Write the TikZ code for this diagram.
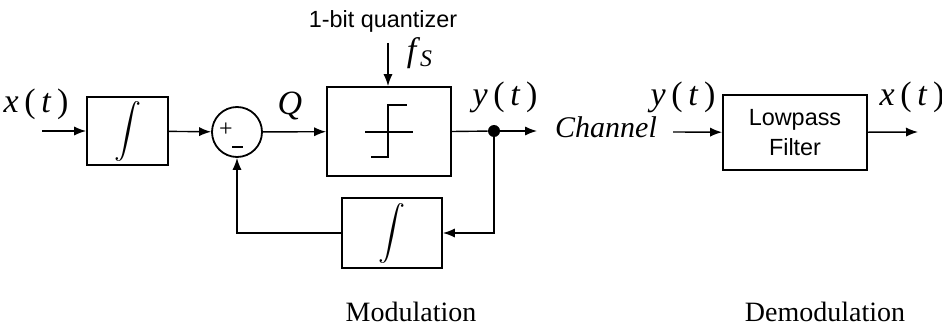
\documentclass[tikz,border=0pt]{standalone}
\usepackage{fontspec}
\setmainfont{Liberation Serif}
\newfontfamily\labelsf{Liberation Sans}
\usetikzlibrary{arrows.meta,calc}
\newcommand{\bigint}{\scalebox{1.35}{$\displaystyle\int$}}

\begin{document}
\begin{tikzpicture}[x=0.5pt,y=-0.5pt,
    blk/.style={draw,line width=0.9pt,inner sep=0pt},
    sig/.style={-{Latex[length=6pt,width=4.6pt]},line width=0.7pt},
    lbl/.style={font=\fontsize{17}{19}\selectfont},
    sflbl/.style={font=\labelsf\fontsize{11.7}{14}\selectfont,align=center}]
  \useasboundingbox (0,0) rectangle (942,326);
  % modulator
  \node[lbl] (xlab) at (36,104) {\textit{x}\,(\,\textit{t}\,)};
  \coordinate (xin) at (42,131);
  \node[blk,minimum width=40.5pt,minimum height=34pt] (int1) at (127.5,131)
    {\fontsize{14.5}{16}\selectfont\bigint};
  \node[blk,circle,minimum size=25pt] (sum) at (237,132) {};
  \node[font=\fontsize{12}{14}\selectfont] (plus) at (226,130) {+};
  \draw[line width=0.8pt] (232,147) -- (243,147);
  \node[blk,minimum width=62pt,minimum height=44.5pt] (quant) at (389,131.5) {};
  \draw[line width=0.7pt] (371,157) -- (388,157) -- (388,105) -- (407,105);
  \draw[line width=0.7pt] (365,132) -- (413,132);
  \node[sflbl] (qtext) at (383,21) {1-bit quantizer};
  \coordinate (clk) at (388,43);
  \node[lbl] (fs) at (420,53) {\textit{f}\textsubscript{\textit{S}}};
  \node[lbl] (qlab) at (290,106) {\textit{Q}};
  \node[circle,fill,inner sep=0pt,minimum size=6pt] (tap) at (494,131) {};
  \coordinate (yout) at (537,131);
  \node[lbl] (ylab) at (505,97) {\textit{y}\,(\,\textit{t}\,)};
  \node[blk,minimum width=50pt,minimum height=35pt] (int2) at (392,233)
    {\fontsize{14.5}{16}\selectfont\bigint};
  \draw[sig] (xin) -- (int1);
  \draw[sig] (int1) -- (sum);
  \draw[sig] (sum) -- (quant);
  \draw[sig] (clk) -- (clk |- quant.north);
  \draw[line width=0.7pt] (quant.east) -- (tap);
  \draw[sig] (tap) -- (yout);
  \draw[sig] (tap) |- (int2.east);
  \draw[sig] (int2.west) -| (sum.south);
  \node[font=\fontsize{14}{16}\selectfont] (modlab) at (411,312) {Modulation};
  % demodulator
  \node[font=\fontsize{15}{17}\selectfont\itshape] (chan) at (606,127) {Channel};
  \node[lbl] (ylab2) at (683,97) {\textit{y}\,(\,\textit{t}\,)};
  \coordinate (yin) at (673,132);
  \node[blk,minimum width=72pt,minimum height=37.5pt,sflbl] (lpf) at (795,132.5)
    {Lowpass\\[1pt]Filter};
  \coordinate (xout) at (918,132);
  \node[lbl] (xlab2) at (912,97) {\textit{x}\,(\,\textit{t}\,)};
  \draw[sig] (yin) -- (lpf);
  \draw[sig] (lpf) -- (xout);
  \node[font=\fontsize{14}{16}\selectfont] (demodlab) at (825,312) {Demodulation};
\end{tikzpicture}
\end{document}
